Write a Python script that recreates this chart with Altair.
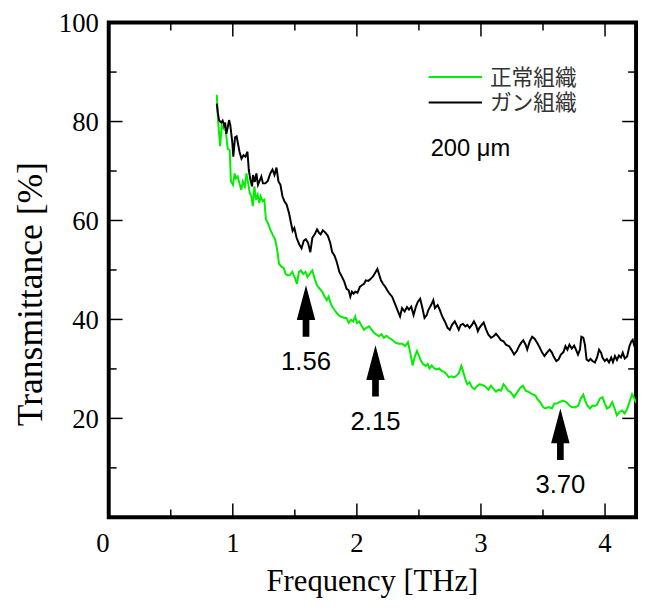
import altair as alt
import pandas as pd

# ---------------- data ----------------
green_x = [0.871, 0.882, 0.898, 0.911, 0.927, 0.943, 0.959, 0.975, 0.985, 1.001, 1.015, 1.025, 1.039, 1.054,
           1.068, 1.081, 1.097, 1.110, 1.124, 1.137, 1.150, 1.161, 1.174, 1.187, 1.201, 1.214, 1.224, 1.240,
           1.254, 1.267, 1.283, 1.301, 1.320, 1.341, 1.357, 1.373, 1.394, 1.410, 1.426, 1.442, 1.461, 1.479,
           1.501, 1.517, 1.533, 1.548, 1.567, 1.586, 1.602, 1.620, 1.641, 1.660, 1.679, 1.700, 1.721, 1.740,
           1.758, 1.772, 1.788, 1.801, 1.820, 1.838, 1.859, 1.880, 1.899, 1.917, 1.934, 1.952, 1.970, 1.987,
           2.000, 2.019, 2.040, 2.058, 2.077, 2.098, 2.120, 2.138, 2.159, 2.178, 2.198, 2.218, 2.238, 2.258,
           2.284, 2.311, 2.337, 2.364, 2.390, 2.412, 2.430, 2.449, 2.465, 2.484, 2.502, 2.518, 2.536, 2.555,
           2.570, 2.585, 2.603, 2.624, 2.643, 2.663, 2.683, 2.704, 2.723, 2.741, 2.762, 2.782, 2.802, 2.821,
           2.842, 2.855, 2.874, 2.890, 2.908, 2.927, 2.948, 2.968, 2.988, 3.005, 3.023, 3.041, 3.060, 3.081,
           3.102, 3.121, 3.140, 3.161, 3.182, 3.201, 3.219, 3.240, 3.267, 3.293, 3.320, 3.339, 3.360, 3.386,
           3.413, 3.440, 3.453, 3.479, 3.501, 3.519, 3.546, 3.572, 3.591, 3.612, 3.633, 3.660, 3.687, 3.713,
           3.732, 3.758, 3.785, 3.804, 3.825, 3.840, 3.857, 3.878, 3.899, 3.918, 3.936, 3.958, 3.979, 3.998,
           4.016, 4.037, 4.058, 4.077, 4.096, 4.117, 4.138, 4.157, 4.177, 4.197, 4.218, 4.237, 4.250]
green_y = [85.4, 79.8, 75.0, 79.2, 78.5, 78.2, 74.5, 74.2, 67.9, 67.2, 69.5, 68.5, 68.9, 67.5,
           66.2, 67.9, 66.9, 69.5, 67.5, 65.5, 64.9, 62.9, 66.9, 64.2, 65.2, 63.5, 64.9, 63.9,
           64.2, 60.2, 59.5, 58.2, 57.2, 56.2, 54.2, 51.2, 50.6, 50.4, 49.2, 48.9, 49.0, 49.6,
           48.4, 47.2, 49.6, 49.9, 49.2, 49.6, 48.6, 49.2, 49.9, 48.2, 46.9, 46.2, 45.6, 44.6,
           43.9, 44.6, 43.3, 42.6, 41.9, 41.3, 40.7, 40.5, 40.3, 40.3, 39.3, 39.9, 39.6, 40.6,
           39.3, 39.6, 38.6, 37.9, 38.3, 38.6, 37.9, 37.3, 36.9, 36.6, 37.0, 36.3, 36.7, 36.3,
           35.9, 35.3, 35.1, 35.1, 34.6, 35.4, 33.3, 30.7, 32.3, 33.6, 32.6, 31.6, 30.9, 30.6,
           31.0, 30.1, 30.7, 30.1, 29.9, 30.1, 29.6, 29.4, 28.9, 28.3, 28.5, 28.3, 28.6, 29.1,
           30.6, 29.6, 27.9, 26.9, 27.3, 26.3, 25.9, 26.5, 26.9, 26.8, 26.6, 26.3, 25.8, 26.6,
           25.9, 25.4, 25.8, 25.6, 26.9, 26.3, 25.6, 25.3, 24.3, 25.3, 26.3, 26.6, 25.6, 25.3,
           24.9, 24.6, 24.0, 23.2, 22.3, 22.0, 22.3, 22.0, 23.0, 23.0, 23.3, 23.6, 23.3, 22.6,
           22.3, 22.2, 22.6, 24.0, 24.8, 23.6, 22.6, 22.0, 22.6, 22.5, 22.8, 24.0, 24.3, 23.0,
           22.0, 22.3, 23.3, 22.0, 20.6, 21.3, 21.6, 21.0, 21.8, 23.3, 24.9, 24.0, 23.2]

black_x = [0.871, 0.879, 0.890, 0.906, 0.918, 0.930, 0.938, 0.948, 0.959, 0.970, 0.980, 0.996, 1.004, 1.018,
           1.031, 1.044, 1.054, 1.070, 1.086, 1.102, 1.118, 1.129, 1.142, 1.155, 1.163, 1.177, 1.190, 1.203,
           1.216, 1.230, 1.243, 1.262, 1.282, 1.302, 1.320, 1.336, 1.352, 1.368, 1.384, 1.400, 1.416, 1.434,
           1.453, 1.469, 1.482, 1.496, 1.514, 1.535, 1.554, 1.572, 1.588, 1.606, 1.625, 1.641, 1.660, 1.679,
           1.695, 1.708, 1.726, 1.748, 1.766, 1.785, 1.801, 1.820, 1.838, 1.859, 1.880, 1.899, 1.917, 1.934,
           1.947, 1.960, 1.973, 1.987, 2.005, 2.024, 2.040, 2.058, 2.072, 2.092, 2.112, 2.130, 2.151, 2.165,
           2.178, 2.194, 2.210, 2.226, 2.245, 2.263, 2.284, 2.300, 2.316, 2.332, 2.348, 2.364, 2.385, 2.404,
           2.420, 2.438, 2.457, 2.476, 2.492, 2.510, 2.528, 2.545, 2.563, 2.576, 2.598, 2.616, 2.629, 2.651,
           2.669, 2.688, 2.709, 2.731, 2.749, 2.767, 2.789, 2.805, 2.821, 2.837, 2.855, 2.874, 2.890, 2.908,
           2.927, 2.943, 2.962, 2.975, 2.988, 3.006, 3.022, 3.041, 3.060, 3.081, 3.102, 3.121, 3.139, 3.161,
           3.182, 3.201, 3.227, 3.245, 3.267, 3.289, 3.307, 3.325, 3.341, 3.360, 3.373, 3.394, 3.413, 3.432,
           3.453, 3.474, 3.493, 3.512, 3.532, 3.554, 3.572, 3.586, 3.607, 3.625, 3.644, 3.665, 3.681, 3.697,
           3.713, 3.732, 3.751, 3.766, 3.782, 3.798, 3.809, 3.825, 3.838, 3.851, 3.867, 3.883, 3.899, 3.918,
           3.936, 3.952, 3.968, 3.979, 3.998, 4.015, 4.032, 4.050, 4.064, 4.080, 4.096, 4.112, 4.128, 4.143,
           4.159, 4.178, 4.197, 4.213, 4.223, 4.237, 4.250]
black_y = [83.6, 81.8, 80.2, 79.8, 80.2, 79.2, 79.8, 77.5, 78.8, 80.3, 79.2, 75.8, 72.9, 76.8,
           77.0, 75.2, 73.9, 72.5, 73.2, 72.9, 73.9, 70.2, 68.2, 66.9, 69.2, 67.8, 69.5, 67.2,
           68.0, 68.9, 67.5, 67.5, 68.0, 69.5, 70.3, 69.2, 70.7, 67.9, 67.2, 64.9, 63.9, 63.2,
           61.5, 59.5, 57.9, 58.5, 56.5, 55.2, 54.4, 55.9, 56.2, 55.5, 53.6, 56.5, 57.2, 58.2,
           57.5, 57.2, 58.0, 57.5, 56.9, 55.5, 53.6, 52.9, 51.6, 49.6, 48.6, 47.6, 46.2, 45.9,
           44.6, 45.6, 45.2, 45.6, 45.4, 46.6, 46.9, 47.2, 47.9, 47.8, 48.2, 48.7, 49.6, 50.2,
           49.2, 47.9, 47.2, 46.7, 45.9, 45.2, 44.6, 43.6, 42.6, 41.6, 40.6, 42.3, 41.6, 42.5,
           42.0, 42.6, 40.9, 42.6, 43.6, 44.2, 42.3, 40.3, 40.9, 41.9, 42.9, 43.9, 42.3, 42.9,
           41.9, 40.6, 39.6, 38.3, 37.9, 38.9, 39.6, 38.8, 37.9, 38.9, 39.1, 38.6, 38.9, 38.3,
           38.9, 39.6, 38.7, 37.6, 38.3, 38.9, 39.4, 38.0, 36.9, 36.3, 36.6, 37.1, 36.6, 35.8,
           35.6, 34.9, 34.6, 33.9, 32.9, 33.6, 34.6, 35.3, 35.8, 34.9, 33.9, 35.6, 36.5, 36.1,
           35.3, 34.3, 33.3, 32.6, 33.3, 33.9, 33.3, 32.5, 31.6, 31.9, 32.9, 33.4, 34.6, 33.9,
           34.9, 34.1, 34.7, 33.9, 32.9, 33.9, 36.5, 36.3, 34.9, 31.9, 31.6, 32.0, 31.6, 31.3,
           32.3, 33.9, 33.3, 32.3, 31.6, 32.0, 31.3, 32.3, 31.4, 32.6, 31.8, 32.7, 32.3, 33.3,
           32.1, 32.5, 34.6, 35.6, 35.9, 34.6, 34.3]

series_names = ["正常組織", "ガン組織"]
series_colors = ["#00ee00", "#000000"]

arrow_x = [1.59, 2.15, 3.64]
arrow_y = [41.7, 29.6, 16.8]
arrow_labels = ["1.56", "2.15", "3.70"]

x_major = [1, 2, 3, 4]
x_minor = [0.5, 1.5, 2.5, 3.5]
y_major = [20, 40, 60, 80]
y_minor = [10, 30, 50, 70, 90]
y_labels = [20, 40, 60, 80, 100]
x_title = "Frequency [THz]"
y_title = "Transmittance [%]"

# ---------------- build tables ----------------
lines_df = pd.concat([
    pd.DataFrame({"f": green_x, "t": green_y, "s": series_names[0], "o": range(len(green_x))}),
    pd.DataFrame({"f": black_x, "t": black_y, "s": series_names[1], "o": range(len(black_x))}),
])
arrows_df = pd.DataFrame({"f": arrow_x, "t": arrow_y, "label": arrow_labels})

W, H = 534, 501
SERIF = "Liberation Serif"
SANS = "Liberation Sans"

xs = alt.Scale(domain=[0, 4.25], nice=False, zero=False)
ys = alt.Scale(domain=[0, 100], nice=False, zero=False)


def X(field="f"):
    return alt.X(f"{field}:Q", scale=xs, axis=None)


def Y(field="t"):
    return alt.Y(f"{field}:Q", scale=ys, axis=None)


lines = alt.Chart(lines_df).mark_line(strokeWidth=2, clip=True).encode(
    x=X(), y=Y(),
    color=alt.Color("s:N", scale=alt.Scale(domain=series_names, range=series_colors), legend=None),
    order="o:Q",
)

tick_layers = []
for vals, L in ((x_major, 14), (x_minor, 8)):
    d = pd.DataFrame({"f": vals})
    tick_layers.append(alt.Chart(d).mark_rule(color="black", strokeWidth=1.5).encode(
        x=X(), y=alt.value(H), y2=alt.value(H - L)))
    tick_layers.append(alt.Chart(d).mark_rule(color="black", strokeWidth=1.5).encode(
        x=X(), y=alt.value(0), y2=alt.value(L)))
for vals, L in ((y_major, 14), (y_minor, 8)):
    d = pd.DataFrame({"t": vals})
    tick_layers.append(alt.Chart(d).mark_rule(color="black", strokeWidth=1.5).encode(
        y=Y(), x=alt.value(0), x2=alt.value(L)))
    tick_layers.append(alt.Chart(d).mark_rule(color="black", strokeWidth=1.5).encode(
        y=Y(), x=alt.value(W), x2=alt.value(W - L)))

# axis labels and titles as serif text
xlab = alt.Chart(pd.DataFrame({"f": x_major, "l": [str(v) for v in x_major]})).mark_text(
    font=SERIF, fontSize=27, baseline="middle", color="black").encode(
    x=X(), y=alt.value(H + 27), text="l:N")
ylab = alt.Chart(pd.DataFrame({"t": y_labels, "l": [str(v) for v in y_labels]})).mark_text(
    font=SERIF, fontSize=27, baseline="middle", align="right", dy=2, color="black").encode(
    y=Y(), x=alt.value(-10), text="l:N")
corner = alt.Chart(pd.DataFrame({"f": [0], "t": [0], "l": ["0"]})).mark_text(
    font=SERIF, fontSize=27, dx=-6, dy=27, color="black", baseline="middle").encode(
    x=X(), y=Y(), text="l:N")
xtitle = alt.Chart(pd.DataFrame({"l": [x_title]})).mark_text(
    font=SERIF, fontSize=31, baseline="middle", color="black").encode(
    x=alt.value(W / 2), y=alt.value(H + 66), text="l:N")
ytitle = alt.Chart(pd.DataFrame({"l": [y_title]})).mark_text(
    font=SERIF, fontSize=36, baseline="middle", angle=270, color="black").encode(
    x=alt.value(-79), y=alt.value(275), text="l:N")

ARROW = "M0,-1L0.36,0.35L0.13,0.35L0.13,1L-0.13,1L-0.13,0.35L-0.36,0.35Z"
arrows = alt.Chart(arrows_df).mark_point(shape=ARROW, filled=True, color="black",
                                          opacity=1, size=2704, strokeWidth=0).encode(x=X(), y=Y())
arrow_text = alt.Chart(arrows_df).mark_text(font=SANS, fontSize=26, dy=52, color="black",
                                             baseline="middle").encode(x=X(), y=Y(), text="label:N")

# legend (drawn by hand, as in the reference)
leg = []
for i, (name, col) in enumerate(zip(series_names, series_colors)):
    yy = 55 + 26 * i
    leg.append(alt.Chart(pd.DataFrame({"n": [name]})).mark_rule(color=col, strokeWidth=2).encode(
        x=alt.value(324), x2=alt.value(378), y=alt.value(yy)))
    leg.append(alt.Chart(pd.DataFrame({"n": [name]})).mark_text(
        font="Noto Sans CJK JP", fontSize=22, align="left", baseline="middle", color="#333333").encode(
        x=alt.value(386), y=alt.value(yy + 1), text="n:N"))
leg.append(alt.Chart(pd.DataFrame({"n": ["200 μm"]})).mark_text(
    font=SANS, fontSize=24, align="left", baseline="middle", color="black").encode(
    x=alt.value(326), y=alt.value(128), text="n:N"))

chart = alt.layer(lines, *tick_layers, xlab, ylab, corner, xtitle, ytitle,
                  arrows, arrow_text, *leg).properties(
    width=W, height=H,
    background="white",
    autosize=alt.AutoSizeParams(type="none"),
    padding={"left": 102, "top": 11, "right": 4, "bottom": 85},
).configure_view(stroke="black", strokeWidth=4)

chart.save("out.html", embed_options={"renderer": "svg", "actions": False})
